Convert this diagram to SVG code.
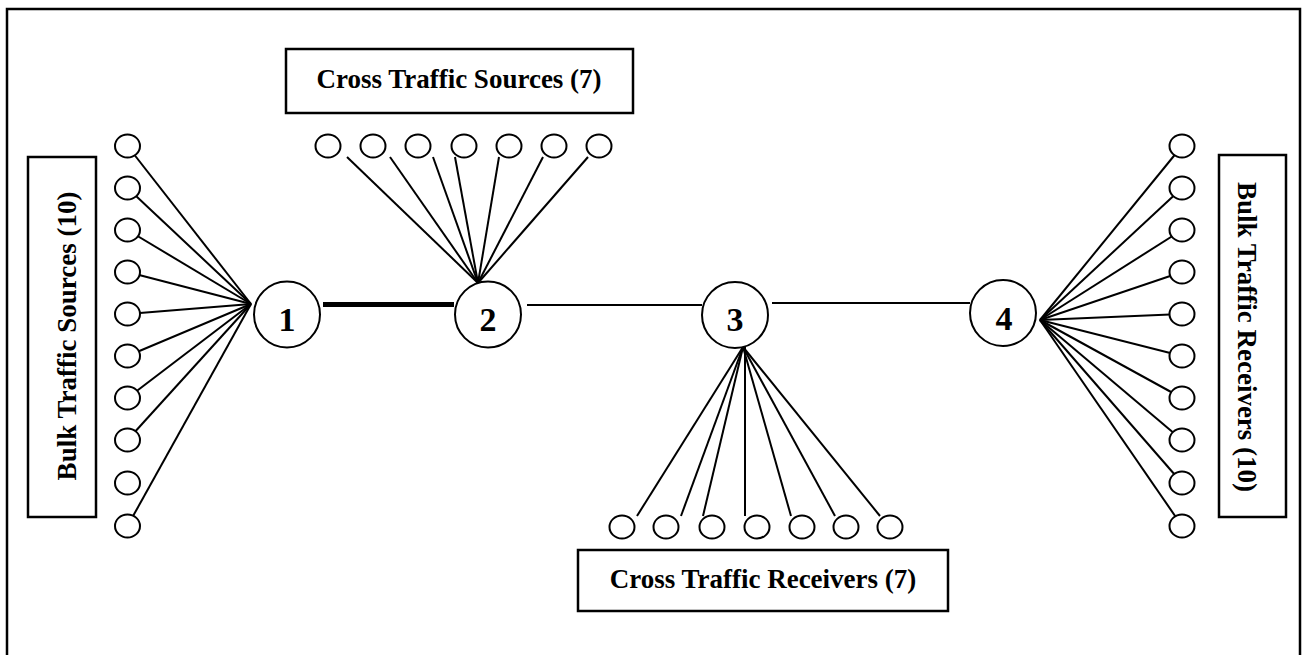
<svg xmlns="http://www.w3.org/2000/svg" width="1306" height="655" viewBox="0 0 1306 655">
<style>
.frame{fill:none;stroke:#000;stroke-width:2.5}
.box{fill:#fff;stroke:#000;stroke-width:2.5}
.lbl{font-family:"Liberation Serif","Times New Roman",serif;font-weight:bold;font-size:27px;fill:#000;text-anchor:middle}
.num{font-family:"Liberation Serif","Times New Roman",serif;font-weight:bold;font-size:34px;fill:#000;text-anchor:middle}
.leaf{fill:#fff;stroke:#000;stroke-width:2}
.node{fill:#fff;stroke:#000;stroke-width:2}
.edge{stroke:#000;stroke-width:2;fill:none}
.thick{stroke:#000;stroke-width:5;fill:none}
</style>
<rect width="1306" height="655" fill="#fff"/>
<path class="frame" d="M7,655 V9 H1300 V655"/>
<g id="connectors">
  <line class="thick" x1="323" y1="304.5" x2="454" y2="304.5"/>
  <line class="edge" x1="527" y1="305" x2="702" y2="305"/>
  <line class="edge" x1="772" y1="303" x2="970" y2="303"/>
  <!-- left fan to node 1 -->
  <line class="edge" x1="127.5" y1="146" x2="251" y2="304"/>
  <line class="edge" x1="127.5" y1="188" x2="251" y2="304"/>
  <line class="edge" x1="127.5" y1="230" x2="251" y2="304"/>
  <line class="edge" x1="127.5" y1="272" x2="251" y2="304"/>
  <line class="edge" x1="127.5" y1="314" x2="251" y2="304"/>
  <line class="edge" x1="127.5" y1="356" x2="251" y2="304"/>
  <line class="edge" x1="127.5" y1="398" x2="251" y2="304"/>
  <line class="edge" x1="127.5" y1="440" x2="251" y2="304"/>
  <line class="edge" x1="127.5" y1="526" x2="251" y2="304"/>
  <!-- top fan to node 2 -->
  <line class="edge" x1="347" y1="157" x2="478" y2="283"/>
  <line class="edge" x1="390" y1="157" x2="478" y2="283"/>
  <line class="edge" x1="433" y1="157" x2="478" y2="283"/>
  <line class="edge" x1="455" y1="157" x2="478" y2="283"/>
  <line class="edge" x1="499" y1="157" x2="478" y2="283"/>
  <line class="edge" x1="543" y1="157" x2="478" y2="283"/>
  <line class="edge" x1="588" y1="157" x2="478" y2="283"/>
  <!-- bottom fan from node 3 -->
  <line class="edge" x1="637" y1="516" x2="743" y2="347"/>
  <line class="edge" x1="681" y1="516" x2="743" y2="347"/>
  <line class="edge" x1="703" y1="516" x2="743" y2="347"/>
  <line class="edge" x1="745" y1="516" x2="745" y2="347"/>
  <line class="edge" x1="791" y1="516" x2="743" y2="347"/>
  <line class="edge" x1="835" y1="516" x2="743" y2="347"/>
  <line class="edge" x1="880" y1="516" x2="743" y2="347"/>
  <!-- right fan from node 4 -->
  <line class="edge" x1="1182" y1="146" x2="1040" y2="320"/>
  <line class="edge" x1="1182" y1="188" x2="1040" y2="320"/>
  <line class="edge" x1="1182" y1="230" x2="1040" y2="320"/>
  <line class="edge" x1="1182" y1="272" x2="1040" y2="320"/>
  <line class="edge" x1="1182" y1="314" x2="1040" y2="320"/>
  <line class="edge" x1="1182" y1="356" x2="1040" y2="320"/>
  <line class="edge" x1="1182" y1="398" x2="1040" y2="320"/>
  <line class="edge" x1="1182" y1="440" x2="1040" y2="320"/>
  <line class="edge" x1="1182" y1="483" x2="1040" y2="320"/>
  <line class="edge" x1="1182" y1="526" x2="1040" y2="320"/>
</g>
<g id="bulk-sources">
  <ellipse class="leaf" cx="127.5" cy="146" rx="12.5" ry="11.5"/>
  <ellipse class="leaf" cx="127.5" cy="188" rx="12.5" ry="11.5"/>
  <ellipse class="leaf" cx="127.5" cy="230" rx="12.5" ry="11.5"/>
  <ellipse class="leaf" cx="127.5" cy="272" rx="12.5" ry="11.5"/>
  <ellipse class="leaf" cx="127.5" cy="314" rx="12.5" ry="11.5"/>
  <ellipse class="leaf" cx="127.5" cy="356" rx="12.5" ry="11.5"/>
  <ellipse class="leaf" cx="127.5" cy="398" rx="12.5" ry="11.5"/>
  <ellipse class="leaf" cx="127.5" cy="440" rx="12.5" ry="11.5"/>
  <ellipse class="leaf" cx="127.5" cy="483" rx="12.5" ry="11.5"/>
  <ellipse class="leaf" cx="127.5" cy="526" rx="12.5" ry="11.5"/>
</g>
<g id="cross-sources">
  <ellipse class="leaf" cx="328" cy="146" rx="12.5" ry="11.5"/>
  <ellipse class="leaf" cx="373" cy="146" rx="12.5" ry="11.5"/>
  <ellipse class="leaf" cx="418" cy="146" rx="12.5" ry="11.5"/>
  <ellipse class="leaf" cx="464" cy="146" rx="12.5" ry="11.5"/>
  <ellipse class="leaf" cx="509" cy="146" rx="12.5" ry="11.5"/>
  <ellipse class="leaf" cx="554" cy="146" rx="12.5" ry="11.5"/>
  <ellipse class="leaf" cx="599" cy="146" rx="12.5" ry="11.5"/>
</g>
<g id="cross-receivers">
  <ellipse class="leaf" cx="622" cy="527" rx="12.5" ry="11.5"/>
  <ellipse class="leaf" cx="666" cy="527" rx="12.5" ry="11.5"/>
  <ellipse class="leaf" cx="712" cy="527" rx="12.5" ry="11.5"/>
  <ellipse class="leaf" cx="757" cy="527" rx="12.5" ry="11.5"/>
  <ellipse class="leaf" cx="802" cy="527" rx="12.5" ry="11.5"/>
  <ellipse class="leaf" cx="846" cy="527" rx="12.5" ry="11.5"/>
  <ellipse class="leaf" cx="890" cy="527" rx="12.5" ry="11.5"/>
</g>
<g id="bulk-receivers">
  <ellipse class="leaf" cx="1182" cy="146" rx="12.5" ry="11.5"/>
  <ellipse class="leaf" cx="1182" cy="188" rx="12.5" ry="11.5"/>
  <ellipse class="leaf" cx="1182" cy="230" rx="12.5" ry="11.5"/>
  <ellipse class="leaf" cx="1182" cy="272" rx="12.5" ry="11.5"/>
  <ellipse class="leaf" cx="1182" cy="314" rx="12.5" ry="11.5"/>
  <ellipse class="leaf" cx="1182" cy="356" rx="12.5" ry="11.5"/>
  <ellipse class="leaf" cx="1182" cy="398" rx="12.5" ry="11.5"/>
  <ellipse class="leaf" cx="1182" cy="440" rx="12.5" ry="11.5"/>
  <ellipse class="leaf" cx="1182" cy="483" rx="12.5" ry="11.5"/>
  <ellipse class="leaf" cx="1182" cy="526" rx="12.5" ry="11.5"/>
</g>
<g id="node1"><circle class="node" cx="287" cy="314.5" r="33"/><text class="num" x="287" y="331">1</text></g>
<g id="node2"><circle class="node" cx="488" cy="314.5" r="33"/><text class="num" x="488" y="331">2</text></g>
<g id="node3"><circle class="node" cx="735" cy="315" r="33"/><text class="num" x="735" y="331">3</text></g>
<g id="node4"><circle class="node" cx="1003" cy="313" r="33"/><text class="num" x="1004" y="330">4</text></g>
<g id="label-bulk-sources"><rect class="box" x="28" y="157" width="68" height="360"/><text class="lbl" transform="translate(76,336) rotate(-90)">Bulk Traffic Sources (10)</text></g>
<g id="label-bulk-receivers"><rect class="box" x="1219" y="155" width="67" height="362"/><text class="lbl" transform="translate(1238,337) rotate(90)">Bulk Traffic Receivers (10)</text></g>
<g id="label-cross-sources"><rect class="box" x="286" y="49" width="347" height="64"/><text class="lbl" x="459" y="88">Cross Traffic Sources (7)</text></g>
<g id="label-cross-receivers"><rect class="box" x="578" y="550" width="370" height="61"/><text class="lbl" x="763" y="588">Cross Traffic Receivers (7)</text></g>
</svg>
